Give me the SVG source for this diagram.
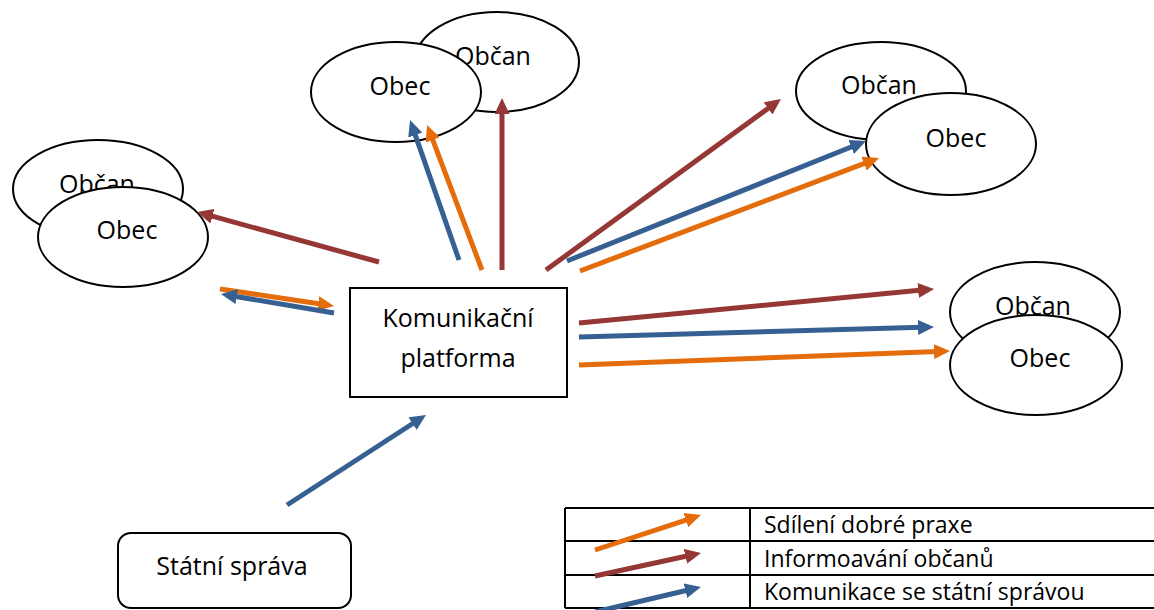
<svg xmlns="http://www.w3.org/2000/svg" width="1154" height="610" viewBox="0 0 1154 610">
<style>
.n{fill:#fff;stroke:#000;stroke-width:2}
.t{font-family:"Open Sans","Liberation Sans",sans-serif;font-size:25px;fill:#000;text-anchor:middle}
.lt{font-family:"Open Sans","Liberation Sans",sans-serif;font-size:23px;fill:#000}
.a{fill:none;stroke-width:5;stroke-linecap:butt}
.o{stroke:#E46C0A}
.b{stroke:#953735}
.u{stroke:#376092}
.grid{stroke:#000;stroke-width:2;fill:none}
</style>
<defs>
<marker id="mo" markerUnits="userSpaceOnUse" markerWidth="16" markerHeight="15" refX="4" refY="7.5" orient="auto"><path d="M0,0 L16,7.5 L0,15 z" fill="#E46C0A"/></marker>
<marker id="mb" markerUnits="userSpaceOnUse" markerWidth="16" markerHeight="15" refX="4" refY="7.5" orient="auto"><path d="M0,0 L16,7.5 L0,15 z" fill="#953735"/></marker>
<marker id="mu" markerUnits="userSpaceOnUse" markerWidth="16" markerHeight="15" refX="4" refY="7.5" orient="auto"><path d="M0,0 L16,7.5 L0,15 z" fill="#376092"/></marker>
</defs>
<rect width="1154" height="610" fill="#fff"/>

<g id="obcan-left"><ellipse class="n" cx="98" cy="189" rx="85" ry="49"/><text class="t" x="97" y="193">Občan</text></g>
<g id="obec-left"><ellipse class="n" cx="123" cy="237" rx="85" ry="50"/><text class="t" x="127" y="239">Obec</text></g>

<g id="obcan-top"><ellipse class="n" cx="497" cy="62" rx="82" ry="50"/><text class="t" x="493" y="65">Občan</text></g>
<g id="obec-top"><ellipse class="n" cx="396" cy="92" rx="85" ry="50"/><text class="t" x="400" y="95">Obec</text></g>

<g id="obcan-topright"><ellipse class="n" cx="881" cy="91" rx="85" ry="49"/><text class="t" x="879" y="94">Občan</text></g>
<g id="obec-topright"><ellipse class="n" cx="951" cy="144" rx="85" ry="51"/><text class="t" x="956" y="147">Obec</text></g>

<g id="obcan-right"><ellipse class="n" cx="1035" cy="312" rx="85" ry="50"/><text class="t" x="1033" y="315">Občan</text></g>
<g id="obec-right"><ellipse class="n" cx="1036" cy="365" rx="86" ry="50"/><text class="t" x="1040" y="367">Obec</text></g>

<g id="platforma"><rect class="n" x="350" y="288" width="217" height="109"/><text class="t" x="458" y="327">Komunikační</text><text class="t" x="458" y="367">platforma</text></g>

<g id="statni-sprava"><rect class="n" x="118" y="533" width="233" height="75" rx="13"/><text class="t" x="232" y="575">Státní správa</text></g>

<g id="legend">
<path class="grid" d="M565,508 H1156 M565,541 H1156 M565,575 H1156 M565,608 H1156 M565,508 V608 M750,508 V608"/>
<text class="lt" x="764" y="533">Sdílení dobré praxe</text>
<text class="lt" x="764" y="567">Informoavání občanů</text>
<text class="lt" x="764" y="600">Komunikace se státní správou</text>
<line class="a o" x1="595" y1="550" x2="689.6" y2="518.8" marker-end="url(#mo)"/>
<line class="a b" x1="595" y1="576" x2="689.3" y2="555.5" marker-end="url(#mb)"/>
<line class="a u" x1="595" y1="612" x2="689.3" y2="589.8" marker-end="url(#mu)"/>
</g>

<g id="connectors">
<line class="a b" x1="379" y1="262" x2="208.6" y2="215.2" marker-end="url(#mb)"/>
<line class="a o" x1="220" y1="289" x2="322.1" y2="304.2" marker-end="url(#mo)"/>
<line class="a u" x1="334" y1="313" x2="232.8" y2="296" marker-end="url(#mu)"/>
<line class="a u" x1="459" y1="260" x2="414" y2="131.3" marker-end="url(#mu)"/>
<line class="a o" x1="482" y1="270" x2="431.3" y2="136.2" marker-end="url(#mo)"/>
<line class="a b" x1="502" y1="270" x2="502" y2="110" marker-end="url(#mb)"/>
<line class="a b" x1="546" y1="270" x2="771.3" y2="106.1" marker-end="url(#mb)"/>
<line class="a u" x1="567" y1="261" x2="854.9" y2="145.5" marker-end="url(#mu)"/>
<line class="a o" x1="580" y1="271" x2="867.8" y2="162.2" marker-end="url(#mo)"/>
<line class="a b" x1="579" y1="323" x2="922.1" y2="290.1" marker-end="url(#mb)"/>
<line class="a u" x1="579" y1="337" x2="922" y2="327.3" marker-end="url(#mu)"/>
<line class="a o" x1="579" y1="365" x2="938" y2="351.5" marker-end="url(#mo)"/>
<line class="a u" x1="287" y1="505" x2="415.9" y2="421.5" marker-end="url(#mu)"/>
</g>
</svg>
